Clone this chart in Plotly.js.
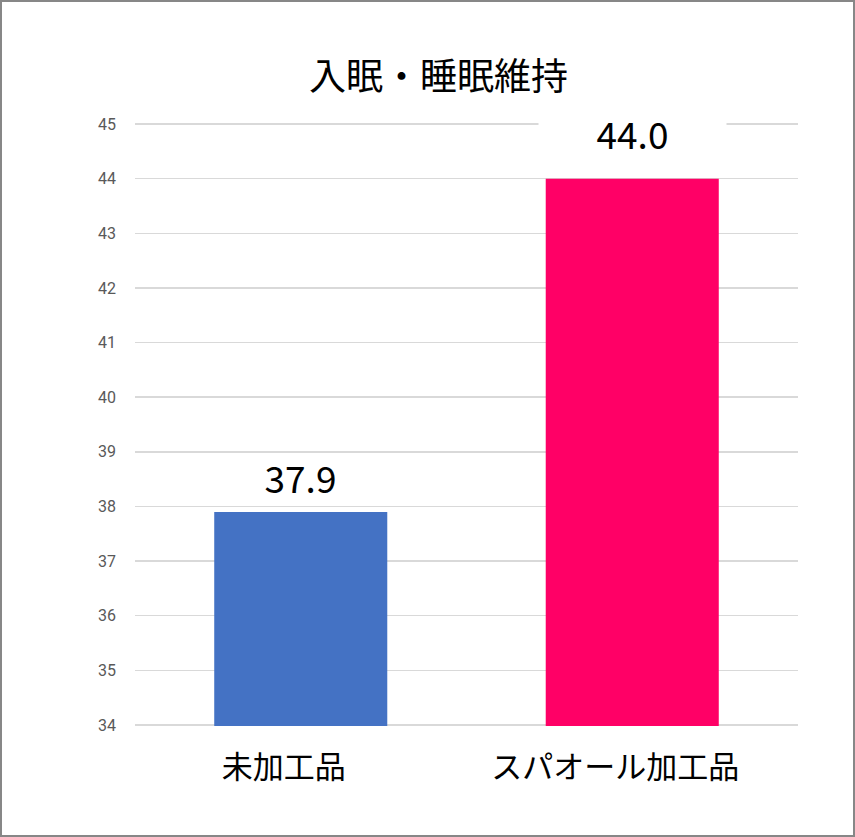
<!DOCTYPE html>
<html>
<head>
<meta charset="utf-8">
<script src="https://cdn.plot.ly/plotly-3.0.1.min.js"></script>
<style>
html,body{margin:0;padding:0;background:#fff;}
#wrap{width:855px;height:837px;box-sizing:border-box;border:2px solid #878787;}
#chart{width:851px;height:833px;}
</style>
</head>
<body>
<div id="wrap"><div id="chart"></div></div>
<script>
const categories = ["未加工品", "スパオール加工品"];
const values = [37.9, 44.0];
const barColors = ["#4472C4", "#FF0066"];
const titleText = "入眠・睡眠維持";
const yTicks = [34,35,36,37,38,39,40,41,42,43,44,45];

const jp = '"Noto Sans CJK JP", "Noto Sans", sans-serif';

const trace = {
  type: "bar",
  x: categories,
  y: values,
  marker: {color: barColors},
  hoverinfo: "none"
};

const labelShift = [17, 28];
const annotations = categories.map((c, i) => ({
  x: c, y: values[i], xref: "x", yref: "y",
  text: values[i].toFixed(1),
  showarrow: false,
  yanchor: "bottom",
  yshift: labelShift[i],
  bgcolor: "#ffffff",
  borderpad: 0,
  width: 187,
  height: 34,
  font: {family: jp, size: 37, color: "#000"}
}));

const layout = {
  width: 851, height: 833,
  margin: {l: 133, r: 55, t: 121, b: 109},
  paper_bgcolor: "#fff",
  plot_bgcolor: "#fff",
  showlegend: false,
  bargap: 0.478,
  title: {
    text: titleText,
    font: {family: jp, size: 37, color: "#000"},
    x: 0.5 + 11/851, xref: "container", xanchor: "center",
    y: 1 - 75/833, yref: "container", yanchor: "middle"
  },
  xaxis: {
    type: "category",
    showgrid: false,
    showline: false,
    zeroline: false,
    ticks: "",
    ticklabelstandoff: 20,
    ticklabelshift: -17,
    tickfont: {family: jp, size: 31, color: "#000"}
  },
  yaxis: {
    range: [33.98, 45.02],
    tickvals: yTicks,
    ticktext: yTicks.map(String),
    showgrid: true,
    gridcolor: "#d9d9d9",
    gridwidth: 1.5,
    zeroline: false,
    showline: false,
    ticks: "",
    ticklabelstandoff: 18,
    tickfont: {family: 'Roboto, "Noto Sans", sans-serif', size: 16, color: "#595959"}
  },
  annotations: annotations
};

Plotly.newPlot("chart", [trace], layout, {displayModeBar: false, staticPlot: true});
</script>
</body>
</html>
